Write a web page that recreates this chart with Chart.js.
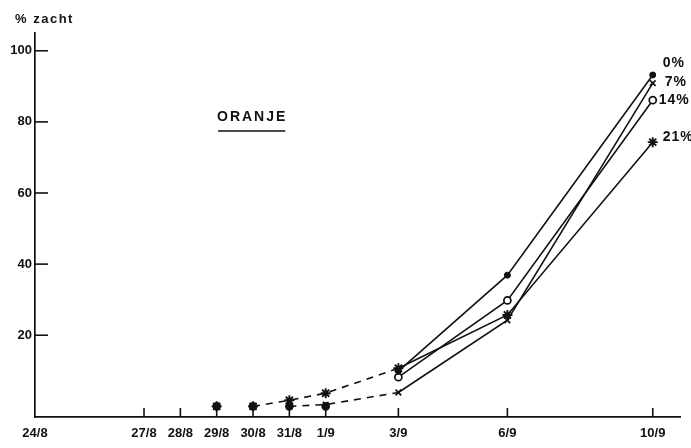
<!DOCTYPE html>
<html>
<head>
<meta charset="utf-8">
<script src="https://cdn.jsdelivr.net/npm/chart.js@4.4.1/dist/chart.umd.min.js"></script>
<style>
  html, body { margin: 0; padding: 0; background: #fff; }
  #wrap { width: 691px; height: 448px; }
</style>
</head>
<body>
<div id="wrap"><canvas id="c" width="691" height="448"></canvas></div>
<script>
// Date axis: tick labels and their day number counted from 24/8
const dateLabels = ['24/8', '27/8', '28/8', '29/8', '30/8', '31/8', '1/9', '3/9', '6/9', '10/9'];
const dateDays   = [0, 3, 4, 5, 6, 7, 8, 10, 13, 17];

// Observation days (29/8 .. 10/9)
const obsDays = [5, 6, 7, 8, 10, 13, 17];

// Percentage soft fruit per treatment
const seriesNames = ['0%', '7%', '14%', '21%'];
const soft0  = [0, 0, 0, 0,   9.9, 36.9, 93.2];
const soft7  = [0, 0, 0, 0.5, 3.9, 24.2, 90.9];
const soft14 = [0, 0, 0, 0,   8.2, 29.8, 86.1];
const soft21 = [0, 0, 1.7, 3.7, 10.7, 25.7, 74.3];

const yTicks = [20, 40, 60, 80, 100];

const FONT = '"Liberation Sans", "DejaVu Sans", sans-serif';
const INK = '#111';

// early part of the curves (before 3/9): dashed for some treatments, hidden for the others
function segStyle(dashedEarly) {
  return {
    borderColor: ctx => {
      const early = ctx.p1.parsed.x <= 10;
      const flat = ctx.p0.parsed.y === 0 && ctx.p1.parsed.y === 0;
      if (early && (flat || !dashedEarly)) return 'rgba(0,0,0,0)';
      return INK;
    },
    borderDash: ctx => (ctx.p1.parsed.x <= 10 ? [7, 6] : undefined)
  };
}

function toPoints(vals) {
  return obsDays.map((d, i) => ({ x: d, y: vals[i] }));
}

const markerStyles = [
  { pointStyle: 'circle',   pointRadius: 3,   pointBackgroundColor: INK,  pointBorderWidth: 1 },
  { pointStyle: 'crossRot', pointRadius: 4,   pointBackgroundColor: INK,  pointBorderWidth: 1.7 },
  { pointStyle: 'circle',   pointRadius: 3.5, pointBackgroundColor: '#fff', pointBorderWidth: 1.7 },
  { pointStyle: 'star',     pointRadius: 5,   pointBackgroundColor: INK,  pointBorderWidth: 1.9 }
];
const dashedEarly = [false, true, false, true];
// offset of the end label relative to the last point
const endLabelShift = [[10, -12], [12, -1], [6, 0], [10, -5]];

const allSeries = [soft0, soft7, soft14, soft21];

const datasets = allSeries.map((vals, i) => Object.assign({
  label: seriesNames[i],
  data: toPoints(vals),
  borderColor: INK,
  pointBorderColor: INK,
  borderWidth: 1.6,
  tension: 0,
  segment: segStyle(dashedEarly[i])
}, markerStyles[i]));

const decorations = {
  id: 'decorations',
  afterDraw(chart) {
    const { ctx, scales: { x, y }, chartArea } = chart;
    ctx.save();
    ctx.strokeStyle = INK;
    ctx.lineWidth = 1.6;
    // inward tick marks on the y axis
    yTicks.forEach(v => {
      const py = y.getPixelForValue(v);
      ctx.beginPath();
      ctx.moveTo(chartArea.left, py);
      ctx.lineTo(chartArea.left + 13, py);
      ctx.stroke();
    });
    // upward tick marks on the date axis
    dateDays.slice(1).forEach(d => {
      const px = x.getPixelForValue(d);
      ctx.beginPath();
      ctx.moveTo(px, chartArea.bottom);
      ctx.lineTo(px, chartArea.bottom - 9);
      ctx.stroke();
    });

    ctx.fillStyle = INK;
    // axis title
    ctx.font = 'bold 13px ' + FONT;
    ctx.letterSpacing = '1.5px';
    ctx.textAlign = 'left';
    ctx.textBaseline = 'middle';
    ctx.fillText('% zacht', 15, 19);

    // variety name, underlined
    ctx.font = 'bold 14px ' + FONT;
    ctx.letterSpacing = '2px';
    ctx.fillText('ORANJE', 217, 117);
    const w = ctx.measureText('ORANJE').width - 2;
    ctx.lineWidth = 1.3;
    ctx.beginPath();
    ctx.moveTo(218, 131);
    ctx.lineTo(217 + w, 131);
    ctx.stroke();

    // treatment labels at the end of each curve
    ctx.font = 'bold 14px ' + FONT;
    ctx.letterSpacing = '1px';
    chart.data.datasets.forEach((ds, i) => {
      const last = ds.data[ds.data.length - 1];
      const px = x.getPixelForValue(last.x) + endLabelShift[i][0];
      const py = y.getPixelForValue(last.y) + endLabelShift[i][1];
      ctx.fillText(ds.label, px, py);
    });
    ctx.restore();
  }
};

new Chart(document.getElementById('c'), {
  type: 'line',
  data: { datasets },
  options: {
    responsive: false,
    animation: false,
    layout: { padding: { top: 33, right: 11, left: 0, bottom: 0 } },
    plugins: { legend: { display: false }, tooltip: { enabled: false } },
    scales: {
      x: {
        type: 'linear',
        min: 0,
        max: 17.75,
        border: { display: true, color: INK, width: 1.7 },
        grid: { display: false, drawTicks: false },
        afterBuildTicks: s => { s.ticks = dateDays.map(v => ({ value: v })); },
        afterFit: s => { s.height = 31; },
        ticks: {
          autoSkip: false,
          maxRotation: 0,
          padding: 9,
          color: INK,
          font: { family: FONT, size: 13, weight: 'bold' },
          callback: v => dateLabels[dateDays.indexOf(v)]
        }
      },
      y: {
        min: -3,
        max: 105,
        border: { display: true, color: INK, width: 1.7 },
        grid: { display: false, drawTicks: false },
        afterBuildTicks: s => { s.ticks = yTicks.map(v => ({ value: v })); },
        afterFit: s => { s.width = 35; },
        ticks: {
          padding: 3,
          color: INK,
          font: { family: FONT, size: 13, weight: 'bold' }
        }
      }
    }
  },
  plugins: [decorations]
});
</script>
</body>
</html>
